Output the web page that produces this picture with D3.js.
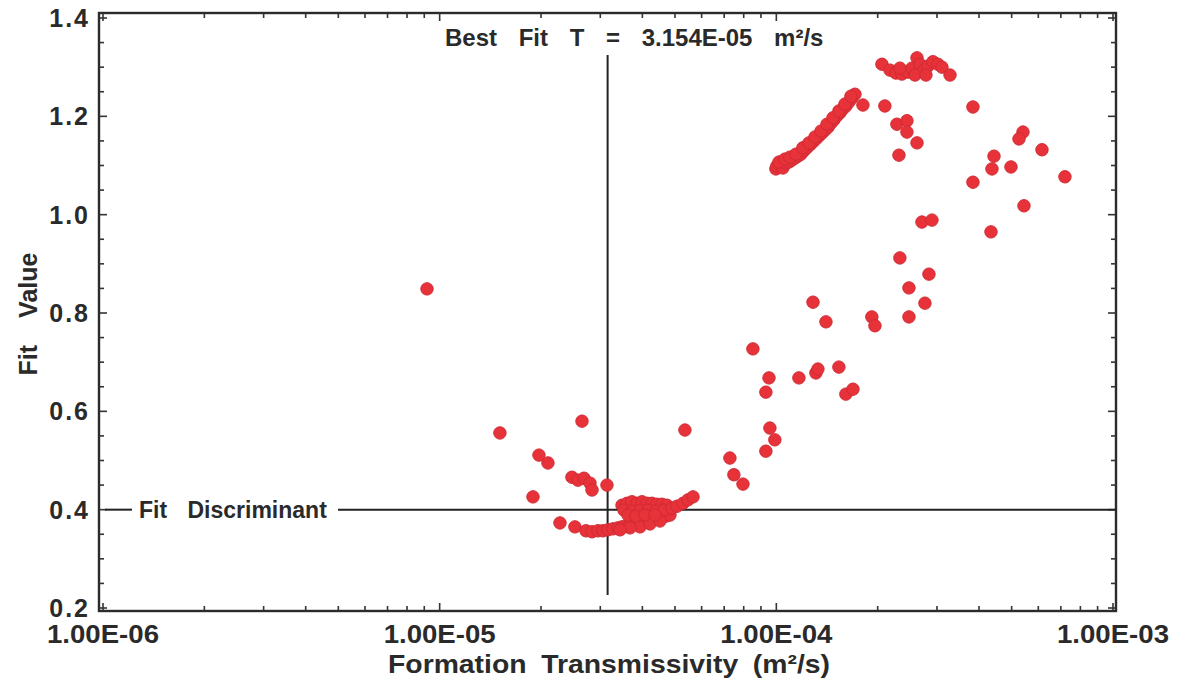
<!DOCTYPE html>
<html>
<head>
<meta charset="utf-8">
<script src="https://cdn.jsdelivr.net/npm/d3@7"></script>
<style>
  body { margin: 0; background: #ffffff; }
  svg text { font-family: 'Liberation Sans', Arial, sans-serif; font-weight: bold; fill: #2a2a2a; }
</style>
</head>
<body>
<div id="chart"></div>
<script>
// Fit value vs formation transmissivity
const transmissivity = [
  9.17e-6, 1.51e-5, 1.893e-5, 1.972e-5, 2.097e-5, 2.647e-5, 2.471e-5, 2.574e-5, 2.683e-5, 2.796e-5,
  2.835e-5, 3.14e-5, 5.352e-5, 2.277e-5, 2.522e-5,
  // lower cluster
  2.72e-5, 2.835e-5, 2.953e-5, 3.055e-5, 3.162e-5, 3.272e-5, 3.386e-5, 3.48e-5, 3.577e-5, 3.676e-5,
  3.778e-5, 3.882e-5, 3.99e-5, 4.101e-5, 4.214e-5, 4.331e-5, 4.451e-5, 4.574e-5, 4.701e-5, 4.831e-5,
  3.935e-5, 3.676e-5, 3.433e-5, 4.214e-5, 4.512e-5,
  3.48e-5, 3.6e-5, 3.725e-5, 3.855e-5, 3.99e-5, 4.129e-5, 4.272e-5, 4.421e-5, 4.574e-5, 4.732e-5,
  3.528e-5, 3.725e-5, 3.935e-5, 4.158e-5, 4.391e-5, 4.637e-5, 4.898e-5, 5.069e-5, 5.282e-5, 5.467e-5,
  5.656e-5, 3.625e-5, 3.828e-5, 4.073e-5, 4.361e-5,
  // middle scatter
  7.28e-5, 7.48e-5, 7.96e-5, 9.31e-5, 9.57e-5, 9.9e-5, 8.52e-5, 9.51e-5, 9.31e-5, 1.167e-4,
  1.311e-4, 1.329e-4, 1.534e-4, 1.609e-4, 1.689e-4, 1.285e-4, 1.404e-4, 1.922e-4, 1.963e-4, 2.477e-4,
  2.477e-4, 2.763e-4, 2.84e-4, 2.328e-4, 2.707e-4, 2.899e-4, 4.341e-4,
  // upper right scatter
  1.808e-4, 2.101e-4, 3.837e-4, 2.281e-4, 2.443e-4, 2.443e-4, 2.617e-4, 2.313e-4, 5.403e-4, 5.258e-4,
  6.152e-4, 4.431e-4, 4.37e-4, 4.977e-4, 3.837e-4, 7.199e-4, 5.44e-4,
  // top cluster
  2.059e-4, 2.175e-4, 2.266e-4, 2.36e-4, 2.46e-4, 2.528e-4, 2.617e-4, 2.671e-4, 2.745e-4, 2.82e-4,
  2.919e-4, 3.02e-4, 3.104e-4, 2.328e-4, 2.581e-4, 2.782e-4, 3.28e-4,
  // rising band
  9.97e-5, 1.004e-4, 1.025e-4, 1.046e-4, 1.046e-4, 1.068e-4, 1.09e-4, 1.112e-4, 1.135e-4, 1.159e-4,
  1.183e-4, 1.208e-4, 1.233e-4, 1.259e-4, 1.285e-4, 1.312e-4, 1.339e-4, 1.367e-4, 1.395e-4, 1.424e-4,
  1.453e-4, 1.483e-4, 1.514e-4, 1.545e-4, 1.577e-4, 1.61e-4, 1.643e-4, 1.677e-4, 1.712e-4,
  1.018e-4, 1.06e-4, 1.097e-4, 1.143e-4, 1.199e-4, 1.25e-4, 1.303e-4, 1.357e-4, 1.414e-4, 1.473e-4,
  1.535e-4, 1.599e-4, 1.666e-4
];
const fitValue = [
  0.849, 0.556, 0.426, 0.511, 0.495, 0.580, 0.466, 0.460, 0.464, 0.454,
  0.440, 0.450, 0.562, 0.373, 0.365,
  0.357, 0.355, 0.357, 0.357, 0.359, 0.361, 0.363, 0.365, 0.367, 0.369,
  0.371, 0.373, 0.375, 0.377, 0.379, 0.381, 0.383, 0.385, 0.387, 0.389,
  0.365, 0.363, 0.359, 0.371, 0.377,
  0.409, 0.413, 0.416, 0.413, 0.416, 0.413, 0.413, 0.411, 0.411, 0.409,
  0.399, 0.397, 0.399, 0.399, 0.397, 0.399, 0.403, 0.407, 0.413, 0.420,
  0.426, 0.389, 0.387, 0.389, 0.389,
  0.505, 0.471, 0.452, 0.519, 0.566, 0.542, 0.727, 0.668, 0.639, 0.668,
  0.678, 0.686, 0.690, 0.635, 0.645, 0.822, 0.782, 0.792, 0.774, 0.792,
  0.851, 0.820, 0.879, 0.912, 0.985, 0.989, 0.965,
  1.223, 1.221, 1.219, 1.184, 1.191, 1.168, 1.146, 1.121, 1.168, 1.154,
  1.132, 1.119, 1.093, 1.097, 1.066, 1.077, 1.018,
  1.306, 1.294, 1.288, 1.286, 1.290, 1.298, 1.319, 1.306, 1.294, 1.302,
  1.311, 1.306, 1.300, 1.298, 1.284, 1.284, 1.284,
  1.093, 1.099, 1.101, 1.101, 1.095, 1.105, 1.107, 1.111, 1.115, 1.119,
  1.123, 1.130, 1.136, 1.142, 1.148, 1.154, 1.160, 1.166, 1.172, 1.178,
  1.186, 1.193, 1.201, 1.207, 1.215, 1.221, 1.229, 1.237, 1.245,
  1.107, 1.113, 1.117, 1.123, 1.136, 1.146, 1.158, 1.170, 1.184, 1.197,
  1.211, 1.225, 1.241
];
const xTickValues = [1e-6, 1e-5, 1e-4, 1e-3];
const xTickLabels = ['1.00E-06', '1.00E-05', '1.00E-04', '1.00E-03'];
const yTickValues = [0.2, 0.4, 0.6, 0.8, 1.0, 1.2, 1.4];
const yTickLabels = ['0.2', '0.4', '0.6', '0.8', '1.0', '1.2', '1.4'];
const bestFitT = 3.154e-5;
const fitDiscriminant = 0.4;

let svgwidth = 1179;
let svgheight = 678;

// 3.154e-5 -> 3.154E-05
function sciLabel(v) {
  let parts = v.toExponential(3).split('e');
  let ex = parseInt(parts[1], 10);
  return parts[0] + 'E' + (ex < 0 ? '-' : '+') + String(Math.abs(ex)).padStart(2, '0');
}

let svg = d3.select('#chart').append('svg')
  .attr('width', svgwidth)
  .attr('height', svgheight);

let xscale = d3.scaleLog().domain([1e-6, 1e-3]).range([103, 1113]);
let yscale = d3.scaleLinear().domain([0.2, 1.4]).range([608, 18]);

let frameLeft = xscale.range()[0] - 4, frameRight = xscale.range()[1] + 3;
let frameTop = yscale.range()[1] - 5, frameBottom = yscale.range()[0] + 3;

// frame
svg.append('rect')
  .attr('x', frameLeft).attr('y', frameTop)
  .attr('width', frameRight - frameLeft).attr('height', frameBottom - frameTop)
  .attr('fill', 'none').attr('stroke', '#2b2b2b').attr('stroke-width', 2.4);

// minor ticks on y (left and right, inside)
let yMinor = d3.range(0.2, 1.4001, 0.05);
let yt = svg.append('g').attr('stroke', '#333').attr('stroke-width', 1.6);
yMinor.forEach(function (v) {
  let major = Math.abs(v * 5 - Math.round(v * 5)) < 1e-6;
  let len = major ? 8 : 5;
  yt.append('line').attr('x1', frameLeft).attr('x2', frameLeft + len).attr('y1', yscale(v)).attr('y2', yscale(v));
  yt.append('line').attr('x1', frameRight).attr('x2', frameRight - len).attr('y1', yscale(v)).attr('y2', yscale(v));
});

// log ticks on x (bottom and top, inside)
let xMinor = [];
[1e-6, 1e-5, 1e-4].forEach(function (d) {
  for (let k = 1; k <= 9; k++) xMinor.push(d * k);
});
xMinor.push(1e-3);
let xt = svg.append('g').attr('stroke', '#333').attr('stroke-width', 1.6);
xMinor.forEach(function (v) {
  let major = xTickValues.some((t) => Math.abs(t - v) / t < 1e-6);
  let len = major ? 8 : 5;
  xt.append('line').attr('x1', xscale(v)).attr('x2', xscale(v)).attr('y1', frameBottom).attr('y2', frameBottom - len);
  xt.append('line').attr('x1', xscale(v)).attr('x2', xscale(v)).attr('y1', frameTop).attr('y2', frameTop + len);
});

// tick labels
svg.append('g').selectAll('text')
  .data(yTickValues)
  .join('text')
  .attr('x', 90)
  .attr('y', (d) => yscale(d) + 9)
  .attr('text-anchor', 'end')
  .attr('font-size', 25)
  .attr('letter-spacing', 2)
  .text((d, i) => yTickLabels[i]);

svg.append('g').selectAll('text')
  .data(xTickValues)
  .join('text')
  .attr('x', (d) => xscale(d))
  .attr('y', 643)
  .attr('text-anchor', 'middle')
  .attr('font-size', 25)
  .attr('textLength', 112)
  .attr('lengthAdjust', 'spacingAndGlyphs')
  .text((d, i) => xTickLabels[i]);

// axis titles
svg.append('text')
  .attr('x', 609).attr('y', 673)
  .attr('text-anchor', 'middle')
  .attr('font-size', 25)
  .attr('word-spacing', 6)
  .attr('textLength', 442)
  .attr('lengthAdjust', 'spacingAndGlyphs')
  .text('Formation Transmissivity (m²/s)');

svg.append('text')
  .attr('transform', 'translate(37, 314) rotate(-90)')
  .attr('text-anchor', 'middle')
  .attr('font-size', 25)
  .attr('word-spacing', 20)
  .text('Fit Value');

// fit discriminant line
let yd = yscale(fitDiscriminant);
let ref = svg.append('g').attr('stroke', '#222').attr('stroke-width', 2);
ref.append('line').attr('x1', frameLeft + 6).attr('x2', 132).attr('y1', yd).attr('y2', yd);
ref.append('line').attr('x1', 338).attr('x2', frameRight).attr('y1', yd).attr('y2', yd);
svg.append('text')
  .attr('x', 139).attr('y', yd + 8)
  .attr('font-size', 23)
  .attr('word-spacing', 14)
  .text('Fit Discriminant');

// best fit line
let xb = xscale(bestFitT);
ref.append('line').attr('x1', xb).attr('x2', xb).attr('y1', 55).attr('y2', 595);
svg.append('text')
  .attr('x', 445).attr('y', 46)
  .attr('font-size', 24)
  .attr('word-spacing', 15)
  .text('Best Fit T = ' + sciLabel(bestFitT) + ' m²/s');

// points
let points = transmissivity.map((t, i) => ({ t: t, v: fitValue[i] }));
svg.append('g').selectAll('circle')
  .data(points)
  .join('circle')
  .attr('cx', (d) => xscale(d.t))
  .attr('cy', (d) => yscale(d.v))
  .attr('r', 6.2)
  .attr('fill', '#e8323a')
  .attr('stroke', '#d02a32')
  .attr('stroke-width', 1);
</script>
</body>
</html>
